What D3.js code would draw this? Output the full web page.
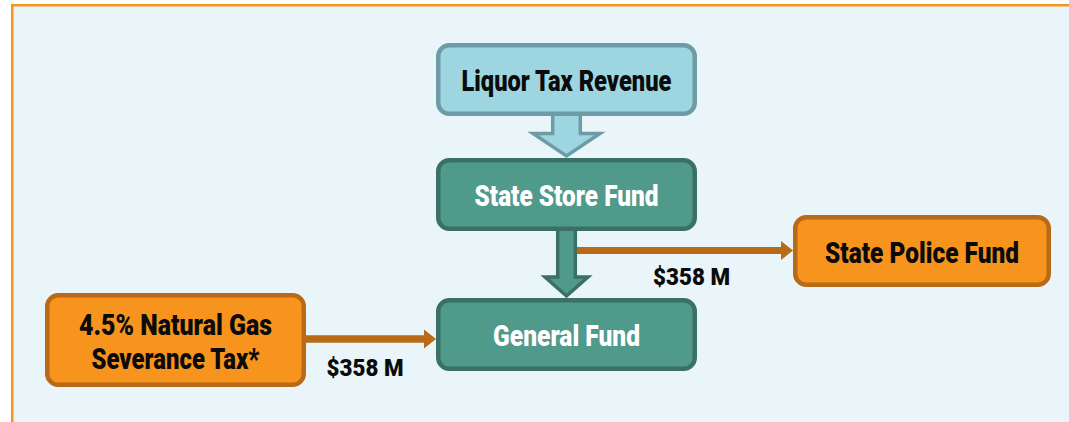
<!DOCTYPE html>
<html>
<head>
<meta charset="utf-8">
<script src="https://cdn.jsdelivr.net/npm/d3@7"></script>
<style>
  html, body { margin: 0; padding: 0; background: #ffffff; }
  svg { display: block; }
</style>
</head>
<body>
<svg id="chart" width="1069" height="422"></svg>
<script>
// ---- Data ----
const nodeNames = ["Liquor Tax Revenue", "State Store Fund", "General Fund", "State Police Fund", "4.5% Natural Gas|Severance Tax*"];
const nodeKinds = ["revenue", "fund", "fund", "outside", "outside"];
const nodeCols  = ["center", "center", "center", "right", "left"];
const nodeRows  = ["top", "middle", "bottom", "side", "bottomLow"];

const flowFrom   = ["Liquor Tax Revenue", "State Store Fund", "State Store Fund", "4.5% Natural Gas|Severance Tax*"];
const flowTo     = ["State Store Fund", "General Fund", "State Police Fund", "General Fund"];
const flowKinds  = ["block", "block", "line", "line"];
const flowAmounts = [null, null, 358, 358];   // $ millions
const amountUnit = "M";

// ---- Styles / layout ----
const W = 1069, H = 422;
const palette = {
  revenue: { fill: "#9dd5e0", stroke: "#6e9ca6", text: "#0b0b0b" },
  fund:    { fill: "#4f9a8a", stroke: "#3b7066", text: "#ffffff" },
  outside: { fill: "#f7941e", stroke: "#b86a18", text: "#0b0b0b" }
};
const xCol = d3.scaleOrdinal().domain(["left", "center", "right"]).range([175.5, 566.5, 922]);
const yRow = d3.scaleOrdinal().domain(["top", "middle", "side", "bottom", "bottomLow"]).range([79.5, 194.5, 251, 334.5, 340]);
const boxW = d3.scaleOrdinal().domain(["revenue", "fund", "outside"]).range([261, 261, 258]);
const boxH = d3.scaleOrdinal().domain(nodeNames).range([73, 73, 73, 72, 94]);
const labelWidths = {
  "Liquor Tax Revenue": [210],
  "State Store Fund": [184],
  "General Fund": [147],
  "State Police Fund": [194],
  "4.5% Natural Gas|Severance Tax*": [193, 168]
};
const fontStack = "'Liberation Sans Narrow', Roboto, 'DejaVu Sans Condensed', sans-serif";

const nodes = nodeNames.map((n, i) => {
  const kind = nodeKinds[i];
  const w = n === "State Police Fund" ? boxW("outside") : (kind === "outside" ? 261 : boxW(kind));
  const h = boxH(n);
  const cx = xCol(nodeCols[i]), cy = yRow(nodeRows[i]);
  return { name: n, kind, cx, cy, w, h, x0: cx - w / 2, x1: cx + w / 2, y0: cy - h / 2, y1: cy + h / 2 };
});
const byName = new Map(nodes.map(d => [d.name, d]));

const svg = d3.select("#chart");

// Panel with orange frame (left and top visible)
svg.append("rect")
  .attr("x", 12.2).attr("y", 5.2)
  .attr("width", W + 20).attr("height", H + 20)
  .attr("fill", "#e9f5f8")
  .attr("stroke", "#f7941e").attr("stroke-width", 2.5);

const flows = flowFrom.map((f, i) => ({
  from: byName.get(f), to: byName.get(flowTo[i]), kind: flowKinds[i], amount: flowAmounts[i]
}));

// ---- Block arrows (vertical) ----
const blockSpec = [
  { sh: 13.8, hh: 33.5, headDrop: 17.5, sw: 3.5 },   // Liquor -> State Store
  { sh: 8.8, hh: 21.5, headDrop: 46, sw: 3.5 }        // State Store -> General
];
flows.filter(d => d.kind === "block").forEach((d, i) => {
  const s = blockSpec[i];
  const cx = d.from.cx;
  const top = d.from.y1 - 2;
  const tip = d.to.y0 - 2;
  const headTop = d.from.y1 + s.headDrop;
  const pts = [[cx - s.sh, top], [cx + s.sh, top], [cx + s.sh, headTop], [cx + s.hh, headTop],
               [cx, tip], [cx - s.hh, headTop], [cx - s.sh, headTop]];
  const pal = palette[d.from.kind];
  svg.append("path")
    .attr("d", d3.line()(pts) + "Z")
    .attr("fill", pal.fill)
    .attr("stroke", pal.stroke)
    .attr("stroke-width", s.sw)
    .attr("stroke-linejoin", "miter");
});

// ---- Line arrows (horizontal, orange) ----
const lineColor = "#b96a17";
const lineSpec = [
  { y: 250.5, x0: 577, tw: 7 },
  { y: 339, x0: null, tw: 7.5 }
];
flows.filter(d => d.kind === "line").forEach((d, i) => {
  const s = lineSpec[i];
  const x0 = s.x0 != null ? s.x0 : d.from.x1 - 1;
  const x1 = d.to.x0;
  const headL = 12, headH = 9.5;
  svg.append("line")
    .attr("x1", x0).attr("x2", x1 - headL + 1)
    .attr("y1", s.y).attr("y2", s.y)
    .attr("stroke", lineColor).attr("stroke-width", s.tw);
  svg.append("path")
    .attr("d", d3.line()([[x1 - headL, s.y - headH], [x1, s.y], [x1 - headL, s.y + headH]]) + "Z")
    .attr("fill", lineColor);
  // amount label
  const lx = i === 0 ? (x0 + x1) / 2 + 6.5 : (x0 + x1) / 2 - 5.5;
  const ly = s.y + (i === 0 ? 34.5 : 37);
  svg.append("text")
    .attr("x", lx).attr("y", ly)
    .attr("text-anchor", "middle")
    .attr("font-family", fontStack)
    .attr("font-weight", 900)
    .attr("font-size", 24.5)
    .attr("fill", "#0b0b0b")
    .attr("textLength", 77)
    .attr("lengthAdjust", "spacingAndGlyphs")
    .text("$" + d.amount + " " + amountUnit);
});

// ---- Boxes ----
const sw = 4.5;
const g = svg.selectAll("g.node").data(nodes).join("g").attr("class", "node");
g.append("rect")
  .attr("x", d => d.x0 + sw / 2).attr("y", d => d.y0 + sw / 2)
  .attr("width", d => d.w - sw).attr("height", d => d.h - sw)
  .attr("rx", 11).attr("ry", 11)
  .attr("fill", d => palette[d.kind].fill)
  .attr("stroke", d => palette[d.kind].stroke)
  .attr("stroke-width", sw);

g.each(function(d) {
  const lines = d.name.split("|");
  const widths = labelWidths[d.name];
  const lh = 34;
  const base = d.cy + 11.5 - (lines.length - 1) * lh / 2;
  lines.forEach((t, k) => {
    d3.select(this).append("text")
      .attr("x", d.cx)
      .attr("y", base + k * lh)
      .attr("text-anchor", "middle")
      .attr("font-family", fontStack)
      .attr("font-weight", 900)
      .attr("font-size", 29)
      .attr("fill", palette[d.kind].text)
      .attr("textLength", widths[k])
      .attr("lengthAdjust", "spacingAndGlyphs")
      .text(t);
  });
});
</script>
</body>
</html>
